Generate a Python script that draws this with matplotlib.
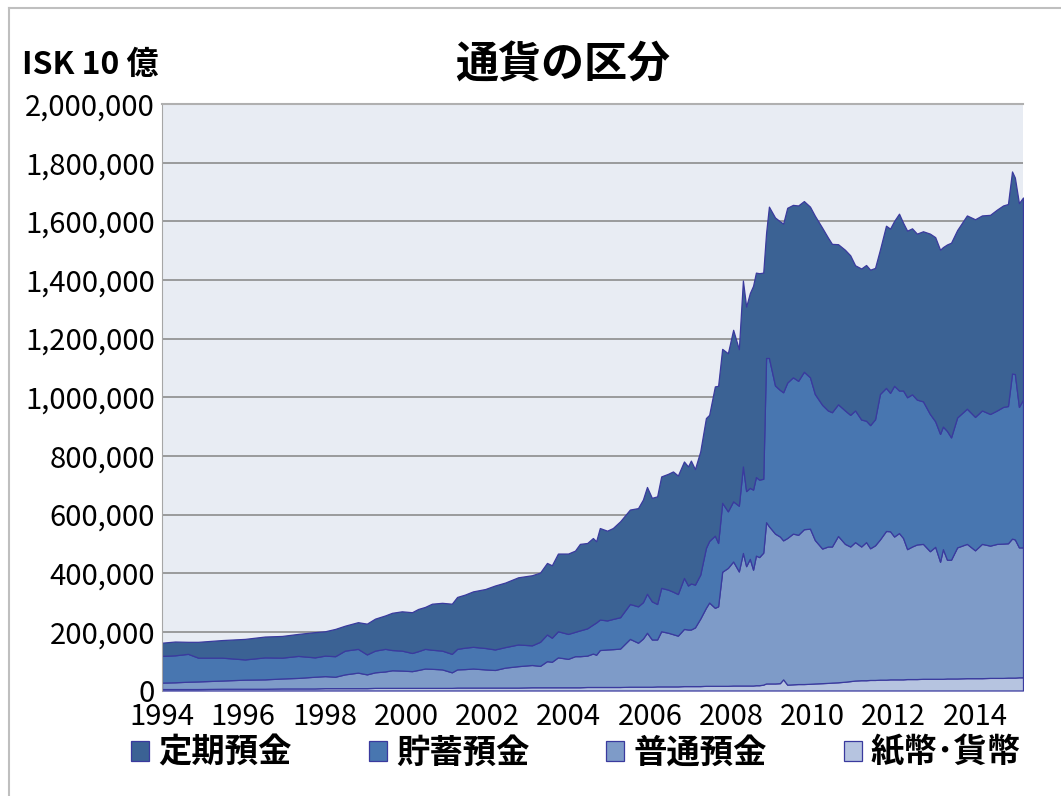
import matplotlib
matplotlib.use('Agg')
import matplotlib.pyplot as plt
import matplotlib.lines as mlines
import numpy as np
from matplotlib.ticker import FuncFormatter

plt.rcParams['font.family'] = ['Noto Sans CJK JP', 'DejaVu Sans']

# 時点（小数の年）
years = [1994.00, 1994.32, 1994.64, 1994.89, 1995.48, 1996.04, 1996.53, 1996.95, 1997.35, 1997.76,
         1998.01, 1998.26, 1998.50, 1998.82, 1999.04, 1999.24, 1999.49, 1999.66, 1999.90, 2000.15,
         2000.30, 2000.47, 2000.64, 2000.89, 2001.13, 2001.26, 2001.45, 2001.65, 2001.95, 2002.19,
         2002.44, 2002.76, 2003.10, 2003.30, 2003.47, 2003.59, 2003.74, 2003.99, 2004.16, 2004.28,
         2004.46, 2004.60, 2004.68, 2004.77, 2004.95, 2005.09, 2005.27, 2005.51, 2005.71, 2005.83,
         2005.93, 2006.05, 2006.18, 2006.28, 2006.45, 2006.57, 2006.69, 2006.84, 2006.94, 2007.01,
         2007.11, 2007.24, 2007.38, 2007.46, 2007.60, 2007.68, 2007.78, 2007.92, 2008.05, 2008.19,
         2008.29, 2008.37, 2008.46, 2008.54, 2008.61, 2008.69, 2008.79, 2008.86, 2008.93, 2009.08,
         2009.20, 2009.28, 2009.38, 2009.52, 2009.65, 2009.79, 2009.94, 2010.06, 2010.24, 2010.38,
         2010.48, 2010.63, 2010.80, 2010.93, 2011.05, 2011.20, 2011.32, 2011.42, 2011.54, 2011.66,
         2011.81, 2011.91, 2012.01, 2012.13, 2012.23, 2012.33, 2012.45, 2012.57, 2012.72, 2012.89,
         2013.02, 2013.14, 2013.21, 2013.31, 2013.41, 2013.56, 2013.80, 2014.00, 2014.17, 2014.37,
         2014.54, 2014.69, 2014.81, 2014.91, 2014.98, 2015.08, 2015.18]

# values, in thousands
teiki = [45, 47, 41, 54, 60, 70, 71, 74, 75, 86,
         83, 93, 85, 91, 105, 109, 114, 127, 134, 139,
         144, 143, 157, 163, 171, 177, 181, 189, 201, 218,
         220, 229, 239, 236, 244, 247, 265, 274, 277, 295,
         291, 295, 277, 312, 306, 310, 327, 322, 335, 350,
         364, 353, 367, 380, 395, 410, 404, 397, 406, 419,
         394, 420, 443, 430, 509, 536, 525, 539, 585, 534,
         634, 629, 664, 695, 697, 704, 703, 426, 516, 573,
         575, 575, 596, 588, 598, 582, 582, 608, 604, 590,
         574, 546, 548, 544, 495, 515, 531, 530, 516, 492,
         553, 560, 562, 603, 572, 568, 566, 566, 580, 615,
         628, 628, 612, 636, 664, 639, 659, 674, 665, 679,
         685, 687, 689, 689, 670, 695, 689]

chochiku = [91, 92, 95, 81, 78, 69, 75, 71, 75, 66,
            70, 70, 81, 81, 68, 74, 77, 69, 68, 62,
            64, 67, 65, 64, 63, 70, 73, 74, 73, 70,
            70, 74, 67, 82, 91, 82, 89, 85, 83, 88,
            93, 99, 110, 104, 99, 103, 107, 119, 124, 124,
            133, 130, 121, 148, 147, 145, 142, 174, 150, 157,
            146, 150, 204, 210, 246, 216, 235, 193, 205, 224,
            295, 256, 242, 273, 268, 264, 252, 560, 574, 505,
            500, 505, 530, 533, 525, 537, 516, 498, 490, 464,
            458, 449, 455, 449, 449, 433, 414, 420, 430, 496,
            488, 472, 514, 486, 503, 518, 519, 494, 486, 468,
            428, 436, 418, 439, 417, 443, 461, 455, 455, 449,
            455, 466, 468, 563, 564, 479, 504]

futsu = [22, 23, 25, 26, 28, 31, 32, 34, 36, 40,
         41, 39, 47, 53, 47, 53, 56, 60, 59, 57,
         61, 66, 65, 63, 53, 62, 63, 65, 62, 60,
         68, 73, 76, 73, 89, 87, 102, 97, 106, 106,
         107, 114, 110, 126, 128, 129, 131, 163, 150, 164,
         184, 161, 160, 188, 183, 178, 173, 195, 193, 193,
         200, 230, 266, 284, 266, 271, 389, 402, 423, 389,
         452, 407, 432, 395, 442, 437, 450, 550, 536, 511,
         500, 474, 500, 514, 509, 528, 529, 489, 459, 465,
         464, 499, 470, 459, 472, 456, 471, 449, 459, 478,
         507, 505, 487, 499, 482, 443, 452, 459, 460, 435,
         450, 399, 442, 405, 405, 447, 458, 436, 458, 451,
         457, 458, 458, 474, 471, 443, 443]

shihei = [5, 5, 5, 5, 6, 6, 6, 7, 7, 7,
          8, 8, 8, 8, 8, 9, 9, 9, 9, 9,
          9, 9, 9, 9, 9, 10, 10, 10, 10, 10,
          10, 10, 11, 11, 11, 11, 11, 11, 11, 11,
          12, 12, 12, 12, 12, 12, 12, 13, 13, 13,
          13, 13, 14, 14, 14, 14, 14, 15, 15, 15,
          15, 15, 16, 16, 16, 16, 16, 16, 17, 17,
          17, 17, 17, 17, 18, 18, 20, 24, 24, 24,
          25, 38, 20, 21, 22, 22, 23, 24, 25, 26,
          27, 28, 30, 32, 34, 35, 35, 36, 36, 37,
          37, 38, 38, 38, 38, 39, 39, 39, 40, 40,
          40, 40, 40, 41, 41, 41, 42, 42, 42, 43,
          43, 43, 44, 44, 44, 45, 45]

labels = ['紙幣･貨幣', '普通預金', '貯蓄預金', '定期預金']
colors = ['#B6C4E0', '#7E9BC8', '#4876B0', '#3B6294']
xticks = list(range(1994, 2015, 2))

W, H = 1061, 796
fig = plt.figure(figsize=(W / 100, H / 100), dpi=100)
ax = fig.add_axes([162 / W, 1 - 690.5 / H, (1023 - 162) / W, (690.5 - 104) / H])

series = [np.array(s) * 1000 for s in (shihei, futsu, chochiku, teiki)]
polys = ax.stackplot(years, *series, colors=colors, labels=labels,
                     edgecolor='#3A3A9E', linewidth=0.9)

ax.set_facecolor('#E8ECF3')
ax.set_xlim(years[0], years[-1])
ax.set_ylim(0, 2000000)
ax.set_yticks(np.arange(0, 2000001, 200000))
ax.yaxis.set_major_formatter(FuncFormatter(lambda v, p: f'{int(v):,}'))
ax.set_xticks(xticks)
ax.set_xticklabels([str(y) for y in xticks])
ax.grid(axis='y', color='#8C8C8C', linewidth=1.2)
ax.set_axisbelow(True)
ax.tick_params(axis='both', length=0, labelsize=21)
ax.tick_params(axis='y', pad=5)
ax.tick_params(axis='x', pad=8)
for side in ['right', 'bottom']:
    ax.spines[side].set_visible(False)
ax.spines['left'].set_color('#A6A6A6')
ax.spines['top'].set_color('#B0B0B0')
ax.spines['top'].set_linewidth(1.5)

# title and unit
fig.text(563 / W, 1 - 65 / H, '通貨の区分', ha='center', va='center',
         fontsize=31, fontweight='bold')
fig.text(22 / W, 1 - 65 / H, 'ISK 10 億', ha='left', va='center',
         fontsize=23, fontweight='bold')

# legend (reverse order, top layer first)
fig.legend(polys[::-1], labels[::-1], ncol=4, loc='center',
           bbox_to_anchor=(576 / W, 1 - 753 / H), frameon=False,
           prop={'weight': 'bold', 'size': 24},
           handlelength=0.55, handleheight=0.55, handletextpad=0.27,
           columnspacing=2.3)

# outer frame
fig.add_artist(mlines.Line2D([8.5 / W, 8.5 / W], [0, 1 - 7.5 / H],
                             color='#BFBFBF', linewidth=1.5))
fig.add_artist(mlines.Line2D([8.5 / W, 1], [1 - 7.5 / H, 1 - 7.5 / H],
                             color='#BFBFBF', linewidth=1.5))

fig.savefig('out.png', dpi=100)
